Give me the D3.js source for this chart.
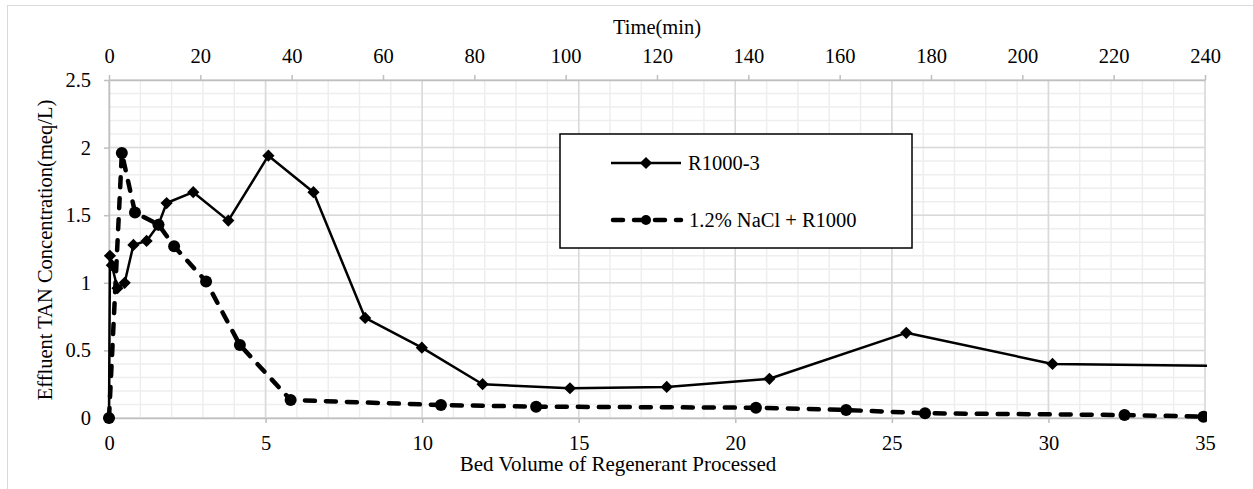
<!DOCTYPE html>
<html><head><meta charset="utf-8">
<script src="https://cdn.jsdelivr.net/npm/d3@7"></script>
<style>
body{margin:0;background:#fff}
svg{display:block}
text{font-family:"Liberation Serif","Times New Roman",serif;fill:#000}
</style>
</head><body>
<svg id="c" width="1253" height="489"></svg>
<script>
// ---- data ----
const bvTicks = [0, 5, 10, 15, 20, 25, 30, 35];
const timeTicks = [0, 20, 40, 60, 80, 100, 120, 140, 160, 180, 200, 220, 240];
const yTicks = [0, 0.5, 1, 1.5, 2, 2.5];
const seriesNames = ["R1000-3", "1.2% NaCl + R1000"];
const r1000BV = [0, 0.03, 0.09, 0.27, 0.5, 0.78, 1.2, 1.58, 1.84, 2.69, 3.81, 5.09, 6.53, 8.18, 9.99, 11.93, 14.72, 17.81, 21.09, 25.46, 30.13, 36];
const r1000C  = [0, 1.2, 1.13, 0.96, 1.0, 1.28, 1.31, 1.43, 1.59, 1.67, 1.46, 1.94, 1.67, 0.74, 0.52, 0.25, 0.22, 0.23, 0.29, 0.63, 0.40, 0.383];
const naclBV = [0, 0.41, 0.83, 1.58, 2.08, 3.1, 4.18, 5.8, 10.6, 13.64, 20.66, 23.54, 26.06, 32.43, 34.95];
const naclC  = [0, 1.96, 1.52, 1.43, 1.27, 1.01, 0.54, 0.133, 0.096, 0.084, 0.076, 0.059, 0.035, 0.022, 0.01];

// ---- layout ----
const L = 109, R = 1205, T = 80, B = 418;
const svg = d3.select("#c");
const x = d3.scaleLinear().domain([0, 35]).range([L, R]);
const xt = d3.scaleLinear().domain([0, 240]).range([L, R]);
const y = d3.scaleLinear().domain([0, 2.5]).range([B, T]);

// outer frame
svg.append("rect").attr("x", 7.5).attr("y", 5.5).attr("width", 1270).attr("height", 500)
  .attr("fill", "none").attr("stroke", "#d9d9d9").attr("stroke-width", 1);

// grid
const g = svg.append("g");
const minorX = d3.range(0, 35.01, 1), minorY = d3.range(0, 2.501, 0.1);
g.selectAll(".mx").data(minorX).join("line")
  .attr("x1", d => x(d)).attr("x2", d => x(d)).attr("y1", T).attr("y2", B)
  .attr("stroke", "#eeeeee").attr("stroke-width", 1.5);
g.selectAll(".my").data(minorY).join("line")
  .attr("x1", L).attr("x2", R).attr("y1", d => y(d)).attr("y2", d => y(d))
  .attr("stroke", "#eeeeee").attr("stroke-width", 1.5);
g.selectAll(".Mx").data(bvTicks).join("line")
  .attr("x1", d => x(d)).attr("x2", d => x(d)).attr("y1", T).attr("y2", B)
  .attr("stroke", "#d9d9d9").attr("stroke-width", 1.5);
g.selectAll(".My").data(yTicks).join("line")
  .attr("x1", L).attr("x2", R).attr("y1", d => y(d)).attr("y2", d => y(d))
  .attr("stroke", "#d9d9d9").attr("stroke-width", 1.5);

// axes
const fs = "20.5px";
function styleAxis(sel) {
  sel.select(".domain").attr("stroke", "#bfbfbf").attr("stroke-width", 1.5);
  sel.selectAll(".tick line").attr("stroke", "#bfbfbf").attr("stroke-width", 1.5);
  sel.selectAll(".tick text").style("font-size", fs).attr("font-family", '"Liberation Serif",serif').attr("fill", "#000");
}
svg.append("g").attr("transform", `translate(0,${B})`)
  .call(d3.axisBottom(x).tickValues(bvTicks).tickSize(5).tickPadding(12).tickSizeOuter(0))
  .call(styleAxis);
svg.append("g").attr("transform", `translate(0,${T})`)
  .call(d3.axisTop(xt).tickValues(timeTicks).tickSize(5).tickPadding(12).tickSizeOuter(0))
  .call(styleAxis);
svg.append("g").attr("transform", `translate(${L},0)`)
  .call(d3.axisLeft(y).tickValues(yTicks).tickFormat(d3.format("~g")).tickSize(5).tickPadding(13).tickSizeOuter(0))
  .call(styleAxis);

// titles
svg.append("text").attr("x", 657).attr("y", 34).attr("text-anchor", "middle").style("font-size", fs).text("Time(min)");
svg.append("text").attr("x", 618).attr("y", 471).attr("text-anchor", "middle").style("font-size", "21px").text("Bed Volume of Regenerant Processed");
svg.append("text").attr("transform", "translate(52,250) rotate(-90)").attr("text-anchor", "middle").style("font-size", fs)
  .text("Effluent TAN Concentration(meq/L)");

// clip
svg.append("clipPath").attr("id", "cp").append("rect").attr("x", 0).attr("y", 0).attr("width", R + 2).attr("height", 489);
const plot = svg.append("g").attr("clip-path", "url(#cp)");

const r1000 = r1000BV.map((v, i) => [v, r1000C[i]]);
const nacl = naclBV.map((v, i) => [v, naclC[i]]);
const line = d3.line().x(d => x(d[0])).y(d => y(d[1]));

plot.append("path").datum(nacl).attr("d", line).attr("fill", "none").attr("stroke", "#000")
  .attr("stroke-width", 4.5).attr("stroke-dasharray", "10,11").attr("stroke-linecap", "round");
plot.append("path").datum(r1000).attr("d", line).attr("fill", "none").attr("stroke", "#000")
  .attr("stroke-width", 2.5).attr("stroke-linejoin", "round");

const diamond = d3.symbol().type(d3.symbolDiamond2).size(95);
plot.selectAll(".dm").data(r1000).join("path")
  .attr("transform", d => `translate(${x(d[0])},${y(d[1])})`)
  .attr("d", diamond).attr("fill", "#000");
plot.selectAll(".ci").data(nacl).join("circle")
  .attr("cx", d => x(d[0])).attr("cy", d => y(d[1])).attr("r", 6).attr("fill", "#000");

// legend
const lg = svg.append("g");
lg.append("rect").attr("x", 560).attr("y", 134).attr("width", 352).attr("height", 114)
  .attr("fill", "#fff").attr("stroke", "#000").attr("stroke-width", 1.5);
lg.append("line").attr("x1", 611).attr("x2", 681).attr("y1", 163).attr("y2", 163)
  .attr("stroke", "#000").attr("stroke-width", 2.5);
lg.append("path").attr("transform", "translate(646,163)").attr("d", diamond).attr("fill", "#000");
lg.append("text").attr("x", 688).attr("y", 170).style("font-size", fs).text(seriesNames[0]);
lg.append("line").attr("x1", 613).attr("x2", 681).attr("y1", 220).attr("y2", 220)
  .attr("stroke", "#000").attr("stroke-width", 4.5).attr("stroke-dasharray", "10,11").attr("stroke-linecap", "round");
lg.append("circle").attr("cx", 646).attr("cy", 220).attr("r", 5).attr("fill", "#000");
lg.append("text").attr("x", 689).attr("y", 227).style("font-size", fs).text(seriesNames[1]);
</script>
</body></html>
